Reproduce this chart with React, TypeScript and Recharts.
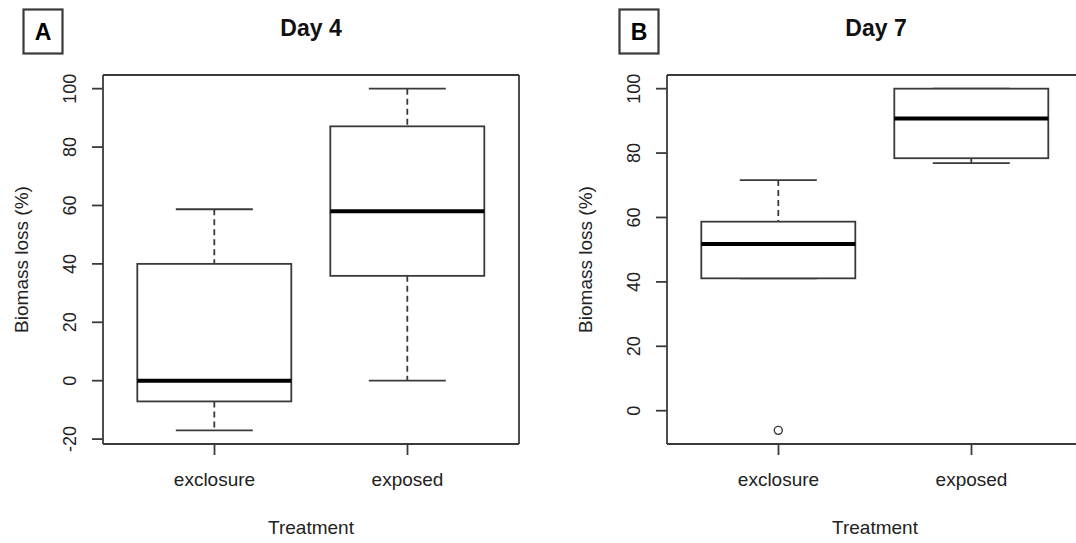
import { Bar, CartesianGrid, ComposedChart, XAxis, YAxis } from "recharts";

// Treatment groups on the x axis
const categories = ["exclosure", "exposed"];

// Day 4 — five-number summaries per treatment (Biomass loss, %)
const day4Min = [-17, 0];
const day4Q1 = [-7.1, 35.9];
const day4Median = [0, 58];
const day4Q3 = [40, 87.1];
const day4Max = [58.7, 100];
const day4Outliers: number[][] = [[], []];
const day4Ticks = [-20, 0, 20, 40, 60, 80, 100];

// Day 7
const day7Min = [41.1, 76.9];
const day7Q1 = [41.1, 78.4];
const day7Median = [51.8, 90.7];
const day7Q3 = [58.7, 100];
const day7Max = [71.6, 100];
const day7Outliers: number[][] = [[-6.1], []];
const day7Ticks = [0, 20, 40, 60, 80, 100];

const FONT = '"Liberation Sans", Arial, Helvetica, sans-serif';
const INK = "#3a3a3a";
const TEXT = "#222";
const LW = 1.8;

interface BoxRow {
  name: string;
  min: number;
  q1: number;
  median: number;
  q3: number;
  max: number;
  outliers: number[];
  range: [number, number];
}

function buildRows(
  mins: number[],
  q1s: number[],
  medians: number[],
  q3s: number[],
  maxs: number[],
  outliers: number[][],
): BoxRow[] {
  return categories.map((name, i) => {
    const lo = Math.min(mins[i], ...outliers[i]);
    const hi = Math.max(maxs[i], ...outliers[i]);
    return {
      name,
      min: mins[i],
      q1: q1s[i],
      median: medians[i],
      q3: q3s[i],
      max: maxs[i],
      outliers: outliers[i],
      range: [lo, hi],
    };
  });
}

// R's default axis range: data range stretched by 4% each side
function rDomain(rows: BoxRow[]): [number, number] {
  const lo = Math.min(...rows.map((r) => r.range[0]));
  const hi = Math.max(...rows.map((r) => r.range[1]));
  const pad = (hi - lo) * 0.04;
  return [lo - pad, hi + pad];
}

// One range bar per group spans [lowest, highest] value; everything else
// is placed proportionally inside the pixels the library gave that bar.
function BoxShape(props: any) {
  const { x, y, width, height } = props;
  const row: BoxRow = props.payload ?? props;
  const top = Math.min(y, y + height);
  const h = Math.abs(height);
  const [lo, hi] = row.range;
  const k = hi === lo ? 0 : h / (hi - lo);
  const py = (v: number) => top + (hi - v) * k;
  const cx = x + width / 2;
  const capHalf = width / 4;
  return (
    <g>
      {row.max > row.q3 && (
        <line x1={cx} x2={cx} y1={py(row.max)} y2={py(row.q3)} stroke={INK} strokeWidth={LW} strokeDasharray="6 4" />
      )}
      {row.min < row.q1 && (
        <line x1={cx} x2={cx} y1={py(row.q1)} y2={py(row.min)} stroke={INK} strokeWidth={LW} strokeDasharray="6 4" />
      )}
      <line x1={cx - capHalf} x2={cx + capHalf} y1={py(row.max)} y2={py(row.max)} stroke={INK} strokeWidth={LW} />
      <line x1={cx - capHalf} x2={cx + capHalf} y1={py(row.min)} y2={py(row.min)} stroke={INK} strokeWidth={LW} />
      <rect
        x={x}
        y={py(row.q3)}
        width={width}
        height={py(row.q1) - py(row.q3)}
        fill="#fff"
        stroke={INK}
        strokeWidth={LW}
      />
      <line x1={x} x2={x + width} y1={py(row.median)} y2={py(row.median)} stroke="#000" strokeWidth={4} />
      {row.outliers.map((o, i) => (
        <circle key={i} cx={cx} cy={py(o)} r={4} fill="none" stroke={INK} strokeWidth={1.4} />
      ))}
    </g>
  );
}

function XTick(props: any) {
  const { x, y, payload } = props;
  return (
    <text x={x} y={y + 30.5} textAnchor="middle" fontSize={19} fill={TEXT} fontFamily={FONT}>
      {payload.value}
    </text>
  );
}

function YTick(props: any) {
  const { x, y, payload } = props;
  const ax = x - 16;
  return (
    <text
      x={ax}
      y={y}
      transform={`rotate(-90 ${ax} ${y})`}
      textAnchor="middle"
      fontSize={18}
      fill={TEXT}
      fontFamily={FONT}
    >
      {payload.value}
    </text>
  );
}

interface PanelProps {
  rows: BoxRow[];
  ticks: number[];
  width: number;
  axisWidth: number;
  rightMargin: number;
}

function BoxPanel({ rows, ticks, width, axisWidth, rightMargin }: PanelProps) {
  const yLabel = (p: any) => {
    const vb = p.viewBox ?? {};
    const lx = vb.x + vb.width - 75.5;
    const ly = vb.y + vb.height / 2;
    return (
      <text
        x={lx}
        y={ly}
        transform={`rotate(-90 ${lx} ${ly})`}
        textAnchor="middle"
        fontSize={19}
        fill={TEXT}
        fontFamily={FONT}
      >
        Biomass loss (%)
      </text>
    );
  };
  const xLabel = (p: any) => {
    const vb = p.viewBox ?? {};
    return (
      <text
        x={vb.x + vb.width / 2}
        y={vb.y + 89.6}
        textAnchor="middle"
        fontSize={19}
        fill={TEXT}
        fontFamily={FONT}
      >
        Treatment
      </text>
    );
  };
  return (
    <ComposedChart
      width={width}
      height={543}
      data={rows}
      margin={{ top: 75, right: rightMargin, bottom: 0, left: 0 }}
      barCategoryGap="10%"
    >
      <CartesianGrid
        stroke={INK}
        strokeWidth={LW}
        horizontalCoordinatesGenerator={({ offset }: any) => [offset.top, offset.top + offset.height]}
        verticalCoordinatesGenerator={({ offset }: any) => [offset.left, offset.left + offset.width]}
      />
      <XAxis
        dataKey="name"
        type="category"
        interval={0}
        height={99}
        padding={{ left: 15, right: 15 }}
        axisLine={false}
        tickSize={11}
        tickMargin={0}
        tickLine={{ stroke: INK, strokeWidth: LW }}
        tick={<XTick />}
        label={xLabel}
      />
      <YAxis
        type="number"
        domain={rDomain(rows)}
        ticks={ticks}
        interval={0}
        width={axisWidth}
        axisLine={false}
        tickSize={11}
        tickMargin={0}
        tickLine={{ stroke: INK, strokeWidth: LW }}
        tick={<YTick />}
        label={yLabel}
      />
      <Bar dataKey="range" shape={<BoxShape />} isAnimationActive={false} />
    </ComposedChart>
  );
}

const day4Rows = buildRows(day4Min, day4Q1, day4Median, day4Q3, day4Max, day4Outliers);
const day7Rows = buildRows(day7Min, day7Q1, day7Median, day7Q3, day7Max, day7Outliers);

export default function App() {
  return (
    <div
      style={{
        position: "absolute",
        left: 0,
        top: 0,
        width: 1076,
        height: 543,
        overflow: "hidden",
        background: "#fff",
        fontFamily: FONT,
      }}
    >
      <div style={{ position: "absolute", left: 0, top: 0 }}>
        <BoxPanel rows={day4Rows} ticks={day4Ticks} width={540} axisWidth={103} rightMargin={21} />
      </div>
      <div style={{ position: "absolute", left: 540, top: 0 }}>
        <BoxPanel rows={day7Rows} ticks={day7Ticks} width={560} axisWidth={127} rightMargin={17} />
      </div>
      <svg
        width={1076}
        height={543}
        style={{ position: "absolute", left: 0, top: 0, pointerEvents: "none" }}
      >
        <text x={311} y={36} textAnchor="middle" fontSize={23} fontWeight="bold" fill="#111" fontFamily={FONT}>
          Day 4
        </text>
        <text x={876} y={36} textAnchor="middle" fontSize={23} fontWeight="bold" fill="#111" fontFamily={FONT}>
          Day 7
        </text>
        <rect x={23.5} y={9.5} width={39} height={44} fill="none" stroke={INK} strokeWidth={2.2} />
        <text x={43} y={40} textAnchor="middle" fontSize={23} fontWeight="bold" fill="#000" fontFamily={FONT}>
          A
        </text>
        <rect x={619.5} y={9.5} width={39} height={44} fill="none" stroke={INK} strokeWidth={2.2} />
        <text x={639} y={40} textAnchor="middle" fontSize={23} fontWeight="bold" fill="#000" fontFamily={FONT}>
          B
        </text>
      </svg>
    </div>
  );
}
